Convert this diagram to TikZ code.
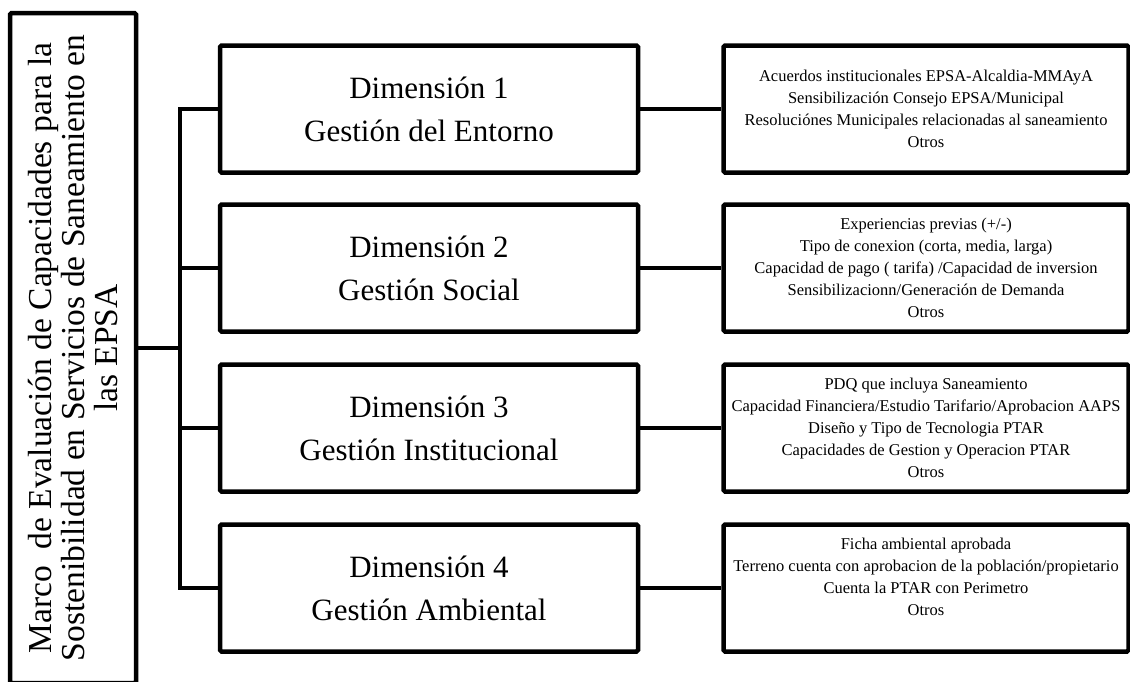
\documentclass[tikz,border=0pt]{standalone}
\usepackage{fontspec}
\setmainfont{Liberation Serif}
\usepackage{tikz}
\newcommand{\otros}{Otros}

\begin{document}
\begin{tikzpicture}[x=1pt,y=-1pt]
    \tikzstyle{caja}=[draw, line width=4.5pt, rounded corners=1.5pt, inner sep=0pt, align=center]
    \tikzstyle{dimension}=[caja, minimum width=418pt, minimum height=127pt, font=\fontsize{31}{43}\selectfont]
    \tikzstyle{criterios}=[caja, minimum width=405pt, minimum height=127pt, font=\fontsize{16.5}{22}\selectfont]
    \tikzstyle{linea}=[line width=4.5pt]
    \useasboundingbox (0,0) rectangle (1130,681);
    \clip (0,0) rectangle (1130,681);

    % marco general
    \node[caja, rotate=90, minimum width=670pt, minimum height=126pt, font=\fontsize{33.5}{33}\selectfont] (marco) at (73,348)
        {Marco\ \ de Evaluación de Capacidades para la\\Sostenibilidad en Servicios de Saneamiento en\\las EPSA};

    % dimensiones
    \node[dimension] (dim1) at (429,109) {Dimensión 1\\Gestión del Entorno};
    \node[dimension] (dim2) at (429,268) {Dimensión 2\\Gestión Social};
    \node[dimension] (dim3) at (429,428) {Dimensión 3\\Gestión Institucional};
    \node[dimension] (dim4) at (429,588) {Dimensión 4\\Gestión Ambiental};

    % criterios
    \node[criterios] (crit1) at (926,109) {Acuerdos institucionales EPSA-Alcaldia-MMAyA\\Sensibilización Consejo EPSA/Municipal\\Resoluciónes Municipales relacionadas al saneamiento\\\otros};
    \node[criterios] (crit2) at (926,268) {Experiencias previas (+/-)\\Tipo de conexion (corta, media, larga)\\Capacidad de pago ( tarifa) /Capacidad de inversion\\Sensibilizacionn/Generación de Demanda\\\otros};
    \node[criterios] (crit3) at (926,428) {PDQ que incluya Saneamiento\\Capacidad Financiera/Estudio Tarifario/Aprobacion AAPS\\Diseño y Tipo de Tecnologia PTAR\\Capacidades de Gestion y Operacion PTAR\\\otros};
    \node[criterios] (crit4) at (926,588) {Ficha ambiental aprobada\\Terreno cuenta con aprobacion de la población/propietario\\Cuenta la PTAR con Perimetro\\\otros\\~};

    \coordinate (tronco) at (180,348);
    \draw[linea] (marco.south) -- (tronco);
    \draw[linea] (dim1.west) -| (tronco);
    \draw[linea] (dim4.west) -| (tronco);
    \draw[linea] (dim2.west) -- (dim2.west -| tronco);
    \draw[linea] (dim3.west) -- (dim3.west -| tronco);
    \draw[linea] (dim1.east) -- (crit1.west);
    \draw[linea] (dim2.east) -- (crit2.west);
    \draw[linea] (dim3.east) -- (crit3.west);
    \draw[linea] (dim4.east) -- (crit4.west);
\end{tikzpicture}
\end{document}
